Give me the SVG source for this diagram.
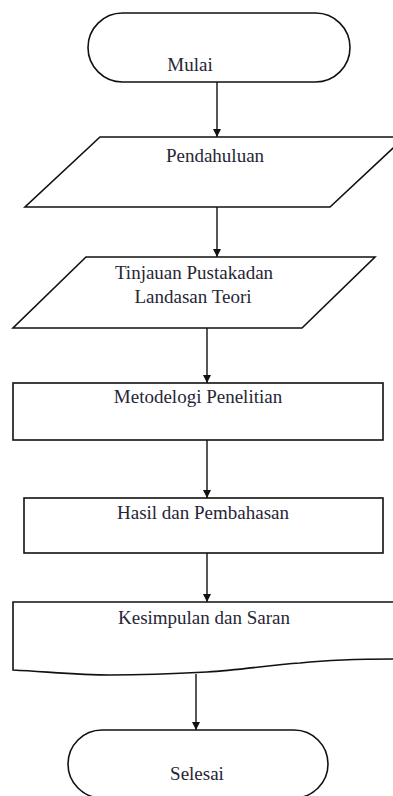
<svg xmlns="http://www.w3.org/2000/svg" width="393" height="796" viewBox="0 0 393 796">
<style>
.s{fill:#fff;stroke:#111;stroke-width:1.6}
.t{font-family:"Liberation Serif","Times New Roman",serif;font-size:19px;fill:#262636;text-anchor:middle}
.c{stroke:#111;stroke-width:1.4;fill:none;marker-end:url(#ah)}
</style>
<defs>
<marker id="ah" markerUnits="userSpaceOnUse" markerWidth="8" markerHeight="8" refX="8" refY="4" orient="auto">
<path d="M0,0 L8,4 L0,8 z" fill="#111"/>
</marker>
</defs>
<rect width="393" height="796" fill="#fff"/>
<g id="connectors">
<line class="c" x1="217" y1="82" x2="217" y2="137"/>
<line class="c" x1="217" y1="207" x2="217" y2="257"/>
<line class="c" x1="207" y1="328" x2="207" y2="383"/>
<line class="c" x1="207" y1="440" x2="207" y2="498"/>
<line class="c" x1="207" y1="553" x2="207" y2="602"/>
<line class="c" x1="196" y1="674" x2="196" y2="730"/>
</g>
<g id="mulai">
<rect class="s" x="88" y="13" width="262" height="69" rx="34.5"/>
<text class="t" x="190" y="71">Mulai</text>
</g>
<g id="pendahuluan">
<polygon class="s" points="100,137 405,137 330,207 25,207"/>
<text class="t" x="215" y="162">Pendahuluan</text>
</g>
<g id="tinjauan">
<polygon class="s" points="86,257 375,257 302,328 13,328"/>
<text class="t" x="194" y="279">Tinjauan Pustakadan</text>
<text class="t" x="193" y="303">Landasan Teori</text>
</g>
<g id="metodelogi">
<rect class="s" x="13" y="383" width="370" height="57"/>
<text class="t" x="198" y="403">Metodelogi Penelitian</text>
</g>
<g id="hasil">
<rect class="s" x="24" y="498" width="359" height="55"/>
<text class="t" x="203" y="519">Hasil dan Pembahasan</text>
</g>
<g id="kesimpulan">
<path class="s" d="M13,602 L396,602 L396,659 C370,659 330,660 300,663 C270,665 240,670 207,672 C170,674 140,675 110,675 C80,675 50,672 13,670 Z"/>
<text class="t" x="204" y="624">Kesimpulan dan Saran</text>
</g>
<g id="selesai">
<rect class="s" x="68" y="730" width="260" height="68" rx="34"/>
<text class="t" x="197" y="780">Selesai</text>
</g>
</svg>
